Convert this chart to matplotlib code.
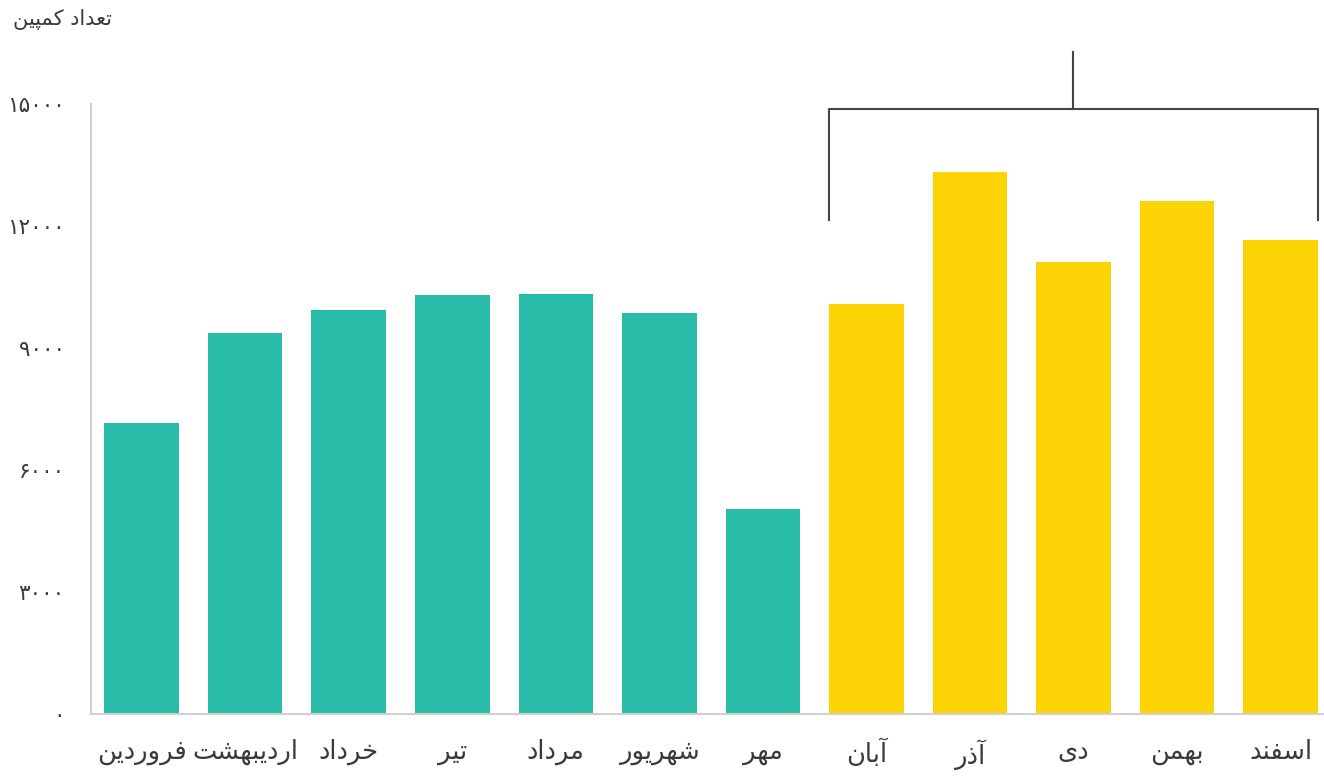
import matplotlib
matplotlib.use("Agg")
import matplotlib.pyplot as plt

# monthly campaign counts (Persian calendar)
months = ["فروردین", "اردیبهشت", "خرداد", "تیر", "مرداد", "شهریور",
          "مهر", "آبان", "آذر", "دی", "بهمن", "اسفند"]
counts = [7150, 9370, 9930, 10300, 10330, 9860, 5040, 10080, 13330, 11110, 12610, 11650]
highlight_from = 7  # آبان onwards
yticks = [0, 3000, 6000, 9000, 12000, 15000]
ylabel = "تعداد کمپین"

TEAL = "#29BCA8"
YELLOW = "#FCD405"
TXT = "#3a3a3a"

# --- minimal Persian shaping (matplotlib has no RTL/joining support) ---
# letter: (isolated, final, initial, medial); right-joining letters have only 2 forms
FORMS = {
    "ا": (0xFE8D, 0xFE8E), "آ": (0xFE81, 0xFE82),
    "د": (0xFEA9, 0xFEAA), "ذ": (0xFEAB, 0xFEAC),
    "ر": (0xFEAD, 0xFEAE), "و": (0xFEED, 0xFEEE),
    "ب": (0xFE8F, 0xFE90, 0xFE91, 0xFE92), "پ": (0xFB56, 0xFB57, 0xFB58, 0xFB59),
    "ت": (0xFE95, 0xFE96, 0xFE97, 0xFE98), "خ": (0xFEA5, 0xFEA6, 0xFEA7, 0xFEA8),
    "س": (0xFEB1, 0xFEB2, 0xFEB3, 0xFEB4), "ش": (0xFEB5, 0xFEB6, 0xFEB7, 0xFEB8),
    "ع": (0xFEC9, 0xFECA, 0xFECB, 0xFECC), "ف": (0xFED1, 0xFED2, 0xFED3, 0xFED4),
    "ک": (0xFB8E, 0xFB8F, 0xFB90, 0xFB91), "م": (0xFEE1, 0xFEE2, 0xFEE3, 0xFEE4),
    "ن": (0xFEE5, 0xFEE6, 0xFEE7, 0xFEE8), "ه": (0xFEE9, 0xFEEA, 0xFEEB, 0xFEEC),
    "ی": (0xFBFC, 0xFBFD, 0xFBFE, 0xFBFF),
}


def shape(s):
    out = []
    for i, ch in enumerate(s):
        if ch not in FORMS:
            out.append(ch)
            continue
        prev = s[i - 1] if i > 0 else None
        nxt = s[i + 1] if i + 1 < len(s) else None
        join_prev = prev in FORMS and len(FORMS[prev]) == 4
        join_next = len(FORMS[ch]) == 4 and nxt in FORMS
        f = FORMS[ch]
        if join_prev and join_next:
            out.append(chr(f[3]))
        elif join_prev:
            out.append(chr(f[1]))
        elif join_next:
            out.append(chr(f[2]))
        else:
            out.append(chr(f[0]))
    return "".join(reversed(out))


def fa_digits(n):
    return str(n).translate(str.maketrans("0123456789", "۰۱۲۳۴۵۶۷۸۹"))


plt.rcParams["font.family"] = ["DejaVu Sans"]

fig = plt.figure(figsize=(13.24, 7.78), dpi=100)
ax = fig.add_axes([0.0687, 0.0823, 0.9313, 0.784])

x = list(range(len(months)))
colors = [TEAL if i < highlight_from else YELLOW for i in x]
ax.bar(x, counts, width=0.72, color=colors, zorder=2)

ax.set_xlim(-0.49, 11.42)
ax.set_ylim(0, 15000)
ax.set_yticks(yticks)
ax.set_yticklabels([fa_digits(v) for v in yticks], fontsize=15.5, color=TXT)
ax.set_xticks(x)
ax.set_xticklabels([shape(m) for m in months], fontsize=18.5, color=TXT)
ax.tick_params(axis="both", length=0)
ax.tick_params(axis="y", pad=19)
ax.tick_params(axis="x", pad=18)

for side in ["top", "right"]:
    ax.spines[side].set_visible(False)
for side in ["left", "bottom"]:
    ax.spines[side].set_color("#d0d0d0")
    ax.spines[side].set_linewidth(1.5)

# bracket over the highlighted months
x0 = highlight_from - 0.36
x1 = len(months) - 1 + 0.36
xm = (x0 + x1) / 2
ax.plot([x0, x0, x1, x1], [12150, 14880, 14880, 12150], color="#444444", lw=1.5,
        clip_on=False, zorder=3)
ax.plot([xm, xm], [14880, 16280], color="#444444", lw=1.5, clip_on=False, zorder=3)

fig.text(0.0095, 0.975, shape(ylabel), fontsize=15, color=TXT, ha="left", va="center")

fig.savefig("out.png", dpi=100)
